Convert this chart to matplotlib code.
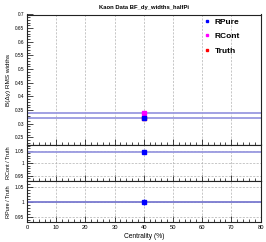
import numpy as np
import matplotlib.pyplot as plt
from matplotlib.ticker import MultipleLocator, FuncFormatter
from matplotlib.lines import Line2D

plt.rcParams['font.family'] = ['Liberation Sans', 'DejaVu Sans']

cent = [40]
rpure = [0.322]
rpure_err = [0.003]
rcont = [0.339]
rcont_err = [0.003]
truth = [0.322]
truth_err = [0.003]
ratio_cont = [1.047]
ratio_cont_err = [0.006]
ratio_pure = [1.0]
ratio_pure_err = [0.01]

W, H = 266, 242
fig = plt.figure(figsize=(W / 100, H / 100), dpi=100)


def box(top, bottom, left=27, right=260.5):
    return [left / W, 1 - bottom / H, (right - left) / W, (bottom - top) / H]


ax1 = fig.add_axes(box(14.5, 144.5))
ax2 = fig.add_axes(box(144.5, 181))
ax3 = fig.add_axes(box(181, 222))

fmt = FuncFormatter(lambda v, p: '%g' % round(v, 3))
for ax in (ax1, ax2, ax3):
    ax.set_xlim(0, 80)
    ax.xaxis.set_major_locator(MultipleLocator(10))
    ax.xaxis.set_minor_locator(MultipleLocator(2))
    ax.yaxis.set_major_formatter(fmt)
    ax.tick_params(which='both', direction='in', top=False, right=False,
                   labelsize=3.4, pad=2, width=0.5)
    ax.tick_params(which='major', length=4)
    ax.tick_params(which='minor', length=2)
    ax.grid(True, axis='x', which='major', ls=(0, (3, 2)), color='#b0b0b0', lw=0.5)
    for s in ax.spines.values():
        s.set_linewidth(0.8)
        s.set_color('#222222')

# top panel
ax1.set_ylim(0.224, 0.7)
ax1.yaxis.set_major_locator(MultipleLocator(0.05))
ax1.yaxis.set_minor_locator(MultipleLocator(0.01))
ax1.axhline(rcont[0], color='#9a9ae0', lw=1.3)
ax1.axhline(rpure[0], color='#9a9ae0', lw=1.3)
ax1.errorbar(cent, truth, yerr=truth_err, fmt='s', ms=2.2, color='red', lw=0.6)
ax1.errorbar(cent, rcont, yerr=rcont_err, fmt='s', ms=2.2, color='magenta', lw=0.6)
ax1.errorbar(cent, rpure, yerr=rpure_err, fmt='s', ms=2.2, color='blue', lw=0.6)
ax1.tick_params(axis='x', labelbottom=False)
ax1.set_ylabel('B(Δy) RMS widths', fontsize=4.6, labelpad=3)
ax1.set_title('Kaon Data BF_dy_widths_halfPi', fontsize=4.2, fontweight='bold', pad=4)

handles = [Line2D([], [], ls='none', marker='s', ms=2, color=c) for c in ('blue', 'magenta', 'red')]
ax1.legend(handles, ['RPure', 'RCont', 'Truth'], loc='upper left',
           bbox_to_anchor=(0.76, 0.975), frameon=False, prop={'size': 6, 'weight': 'bold'},
           handlelength=0.6, handletextpad=0.66, labelspacing=0.8, borderpad=0,
           borderaxespad=0)

# middle panel
ax2.set_ylim(0.93, 1.076)
ax2.yaxis.set_major_locator(MultipleLocator(0.05))
ax2.yaxis.set_minor_locator(MultipleLocator(0.01))
ax2.grid(True, axis='y', which='major', ls=(0, (3, 2)), color='#b0b0b0', lw=0.5)
ax2.axhline(ratio_cont[0], color='#9a9ae0', lw=1.3)
ax2.errorbar(cent, ratio_cont, yerr=ratio_cont_err, fmt='s', ms=2.2, color='blue', lw=0.6)
ax2.tick_params(axis='x', labelbottom=False)
ax2.set_ylabel('RCont / Truth', fontsize=4.0, labelpad=3)

# bottom panel
ax3.set_ylim(0.933, 1.07)
ax3.yaxis.set_major_locator(MultipleLocator(0.05))
ax3.yaxis.set_minor_locator(MultipleLocator(0.01))
ax3.grid(True, axis='y', which='major', ls=(0, (3, 2)), color='#b0b0b0', lw=0.5)
ax3.axhline(ratio_pure[0], color='#7a7ad0', lw=1.3)
ax3.errorbar(cent, ratio_pure, yerr=ratio_pure_err, fmt='s', ms=2.2, color='blue', lw=0.6)
ax3.set_ylabel('RPure / Truth', fontsize=4.0, labelpad=3)
ax3.set_xlabel('Centrality (%)', fontsize=4.8, labelpad=2)
ax3.tick_params(axis='x', labelsize=4.2, pad=2)

fig.savefig('out.png', dpi=100)
